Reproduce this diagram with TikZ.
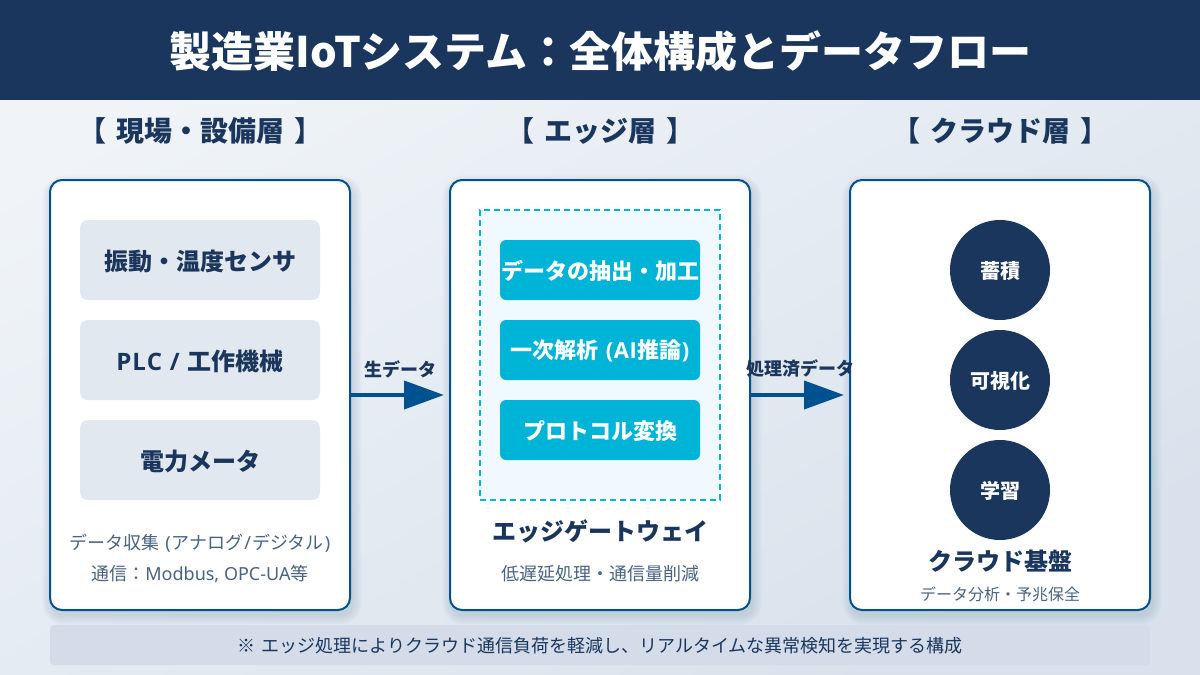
\documentclass[tikz,border=0pt]{standalone}
\usepackage{fontspec}
\setmainfont{Noto Sans CJK JP}
\newfontfamily\latinf{Noto Sans}
\newfontfamily\latinb{Open Sans}[UprightFont=* Bold,BoldFont=* Bold]
\newcommand{\lat}[1]{{\latinf #1}}
\newcommand{\latb}[1]{{\latinb #1}}
\usetikzlibrary{arrows.meta}
\definecolor{navy}{HTML}{1A365D}
\definecolor{edgeblue}{HTML}{00518F}
\definecolor{cyanb}{HTML}{00B4D8}
\definecolor{graybox}{HTML}{E2E8F0}
\definecolor{subgray}{HTML}{4A6382}
\definecolor{bgA}{HTML}{F0F4F8}
\definecolor{bgB}{HTML}{D9E2EC}
\definecolor{noteb}{HTML}{D3DCE8}
\definecolor{dashfill}{HTML}{F0F9FF}
\tikzset{x=1pt,y=-1pt,
 panel/.style={draw=edgeblue,line width=2pt,fill=white,rounded corners=12pt,minimum width=300pt,minimum height=430pt,inner sep=0pt},
 softshadow/.style={fill=navy,fill opacity=0.01},
 graybx/.style={fill=graybox,rounded corners=8pt,minimum width=240pt,minimum height=80pt,inner sep=0pt,text=navy,font=\fontsize{24}{28}\selectfont\bfseries},
 cyanbx/.style={fill=cyanb,rounded corners=6pt,minimum width=200pt,minimum height=60pt,inner sep=0pt,text=white,font=\fontsize{22}{26}\selectfont\bfseries},
 circ/.style={circle,fill=navy,minimum size=100pt,inner sep=0pt,text=white,font=\fontsize{20}{24}\selectfont\bfseries},
 head/.style={text=navy,font=\fontsize{28}{32}\selectfont\bfseries,inner sep=0pt},
 sub/.style={text=subgray,font=\fontsize{18}{22}\selectfont,inner sep=0pt},
 boldl/.style={text=navy,font=\fontsize{24}{30}\selectfont\bfseries,inner sep=0pt},
 arrowlab/.style={text=navy,font=\fontsize{18}{22}\selectfont\bfseries,inner sep=0pt},
 conn/.style={draw=edgeblue,line width=4pt,-{Triangle[length=40pt,width=28pt]}}
}
\newcommand{\dn}[1]{\raisebox{-1pt}[\height][\depth]{#1}}
\begin{document}
\begin{tikzpicture}
\useasboundingbox (0,0) rectangle (1200,675);
\shade[left color=bgA,right color=bgB,shading angle=30] (0,0) rectangle (1200,675);
\fill[navy] (0,0) rectangle (1200,100);
\node[text=white,font=\fontsize{42}{48}\selectfont\bfseries,inner sep=0pt] (title) at (600.5,51) {製造業IoTシステム：全体構成とデータフロー};
\node[head] (h1) at (200.5,130.5) {【\kern3pt\lat{ }現場・設備層\lat{ }\kern3pt】};
\node[head] (h2) at (600.5,130.5) {【\kern3pt\lat{ }エッジ層\lat{ }\kern3pt】};
\node[head] (h3) at (1000.5,130.5) {【\kern3pt\lat{ }クラウド層\lat{ }\kern3pt】};
\foreach \cx in {200,600,1000}{
  \foreach \i in {1,...,10}{
    \fill[softshadow,rounded corners=12+\i] (\cx-150-\i+2,180+5-\i) rectangle (\cx+150+\i+2,610+5+\i);
  }
}
\node[panel] (p1) at (200,395) {};
\node[panel] (p2) at (600,395) {};
\node[panel] (p3) at (1000,395) {};
\node[graybx] (g1) at (200,260) {\dn{振動・温度センサ}};
\node[graybx] (g2) at (200,360) {\dn{\latb{P\kern1pt L\kern1pt C\kern1.5pt{ }/\kern1.5pt{ }}工作機械}};
\node[graybx] (g3) at (200,460) {\dn{電力メータ}};
\node[sub] (s1) at (200,543.5) {データ収集\kern1pt\lat{ (}\kern1pt アナログ\kern1pt\lat{/}\kern1pt デジタル\kern1pt\lat{)}};
\node[sub] (s2) at (200,574) {通信：\lat{Modbus, OPC-UA}等};
\node[draw=cyanb,dash pattern=on 6pt off 4pt,line width=2pt,fill=dashfill,minimum width=240pt,minimum height=290pt,inner sep=0pt] (dash) at (600,355) {};
\node[cyanbx] (c1) at (600,270) {\dn{データの抽出・加工}};
\node[cyanbx] (c2) at (600,350) {\dn{一次解析\latb{\kern1.5pt{ }(\kern.5pt A\kern.5pt I}\kern.5pt 推論\kern.5pt\latb{)}}};
\node[cyanbx] (c3) at (600,430) {\dn{プロトコル変換}};
\node[boldl] (gw) at (600,531.5) {エッジゲートウェイ};
\node[sub] (s3) at (600,574) {低遅延処理・通信量削減};
\node[circ] (o1) at (1000,270) {\dn{蓄積}};
\node[circ] (o2) at (1000,380) {\dn{可視化}};
\node[circ] (o3) at (1000,490) {\dn{学習}};
\node[boldl] (cl) at (1000,561.5) {クラウド基盤};
\node[text=subgray,font=\fontsize{16}{20}\selectfont,inner sep=0pt] (s4) at (1000,594) {データ分析・予兆保全};
\coordinate (a1) at (444,395);
\coordinate (a2) at (844,395);
\draw[conn] (p1.east |- a1) -- (a1);
\draw[conn] (p2.east |- a2) -- (a2);
\node[arrowlab] (l1) at (400,369) {生データ};
\node[arrowlab] (l2) at (800,369) {処理済データ};
\node[fill=noteb,rounded corners=4pt,minimum width=1100pt,minimum height=40pt,inner sep=0pt,text=navy,font=\fontsize{18}{22}\selectfont] (note) at (600,645) {\dn{※\kern2pt\lat{ }エッジ処理によりクラウド通信負荷を軽減し、リアルタイムな異常検知を実現する構成}};
\end{tikzpicture}
\end{document}
